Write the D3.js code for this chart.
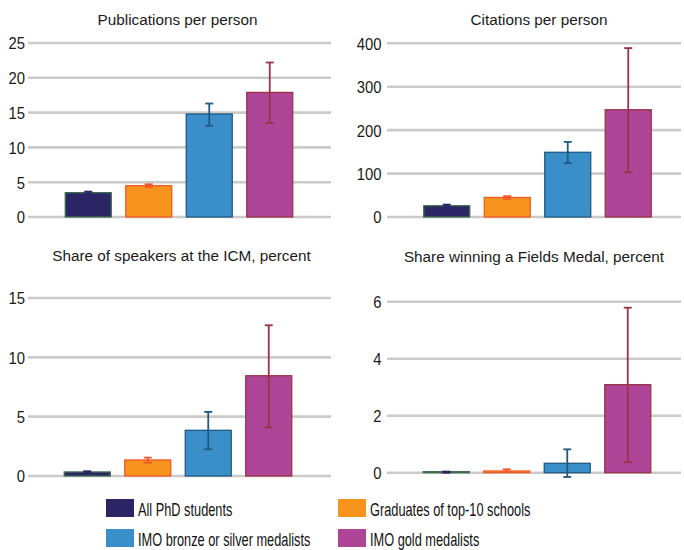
<!DOCTYPE html>
<html>
<head>
<meta charset="utf-8">
<script src="https://cdn.jsdelivr.net/npm/d3@7"></script>
<style>
  html, body { margin: 0; padding: 0; background: #fff; }
  svg { display: block; }
</style>
</head>
<body>
<svg id="chart" width="684" height="550"></svg>
<script>
// Groups compared in every panel
const categories = [
  "All PhD students",
  "Graduates of top-10 schools",
  "IMO bronze or silver medalists",
  "IMO gold medalists"
];

// Publications per person (mean, lower and upper bounds of the interval)
const publications     = [3.5, 4.5, 14.8, 17.9];
const publicationsLow  = [3.35, 4.3, 13.1, 13.5];
const publicationsHigh = [3.65, 4.7, 16.3, 22.2];
const publicationTicks = [0, 5, 10, 15, 20, 25];

// Citations per person
const citations     = [26, 45, 149, 247];
const citationsLow  = [24, 41, 124, 103];
const citationsHigh = [28.5, 48, 173, 389];
const citationTicks = [0, 100, 200, 300, 400];

// Share of speakers at the ICM, percent
const icmShare     = [0.34, 1.35, 3.85, 8.45];
const icmShareLow  = [0.3, 1.12, 2.25, 4.1];
const icmShareHigh = [0.4, 1.55, 5.4, 12.7];
const icmTicks     = [0, 5, 10, 15];

// Share winning a Fields Medal, percent
const fieldsShare     = [0.02, 0.06, 0.33, 3.09];
const fieldsShareLow  = [0.0, 0.03, -0.15, 0.37];
const fieldsShareHigh = [0.04, 0.12, 0.82, 5.79];
const fieldsTicks     = [0, 2, 4, 6];

const titles = [
  "Publications per person",
  "Citations per person",
  "Share of speakers at the ICM, percent",
  "Share winning a Fields Medal, percent"
];

// Styling per group
const fills   = ["#2b2566", "#f7941e", "#3b8fc8", "#ae4596"];
const strokes = ["#3f6d50", "#f15a29", "#1f5a85", "#9b3348"];
const errCols = ["#2b2566", "#f15a29", "#1f5a85", "#9b3348"];

const svg = d3.select("#chart");
const sans = "'Liberation Sans', Arial, sans-serif";

// Panel layout
const panels = [
  { title: titles[0], vals: publications, lo: publicationsLow, hi: publicationsHigh, ticks: publicationTicks,
    xRange: [58, 300], yRange: [217, 43], gridX: [28, 331], labelX: 25, titleX: 177.5, titleY: 25 },
  { title: titles[1], vals: citations, lo: citationsLow, hi: citationsHigh, ticks: citationTicks,
    xRange: [416.5, 658.5], yRange: [217, 43.3], gridX: [387, 681], labelX: 381.5, titleX: 539, titleY: 25 },
  { title: titles[2], vals: icmShare, lo: icmShareLow, hi: icmShareHigh, ticks: icmTicks,
    xRange: [57, 299], yRange: [476, 298], gridX: [28, 331], labelX: 25, titleX: 181.5, titleY: 261 },
  { title: titles[3], vals: fieldsShare, lo: fieldsShareLow, hi: fieldsShareHigh, ticks: fieldsTicks,
    xRange: [416, 658], yRange: [472.7, 301.7], gridX: [387, 681], labelX: 381.5, titleX: 534, titleY: 262 }
];

panels.forEach(p => {
  const g = svg.append("g");
  const x = d3.scaleBand().domain(categories).range(p.xRange).paddingInner(0.24).paddingOuter(0.12);
  const y = d3.scaleLinear().domain([0, d3.max(p.ticks)]).range(p.yRange);

  // Title
  g.append("text")
    .attr("x", p.titleX).attr("y", p.titleY)
    .attr("text-anchor", "middle")
    .style("font-family", sans)
    .style("font-size", "15.3px")
    .style("fill", "#1a1a1a")
    .text(p.title);

  // Horizontal gridlines
  g.selectAll("line.grid").data(p.ticks).join("line")
    .attr("class", "grid")
    .attr("x1", p.gridX[0]).attr("x2", p.gridX[1])
    .attr("y1", d => y(d)).attr("y2", d => y(d))
    .attr("stroke", "#cdcaca").attr("stroke-width", 2.6);

  // Tick labels, narrowed horizontally for a condensed look
  const axis = g.append("g")
    .attr("transform", `translate(${p.labelX},0)`)
    .call(d3.axisLeft(y).tickValues(p.ticks).tickSize(0).tickPadding(0).tickFormat(d3.format("d")));
  axis.select(".domain").remove();
  axis.selectAll("text")
    .attr("dy", "0.36em")
    .attr("transform", "scale(0.9,1)")
    .style("font-family", sans)
    .style("font-size", "16.5px")
    .style("fill", "#1a1a1a");

  // Bars
  g.selectAll("rect.bar").data(categories).join("rect")
    .attr("class", "bar")
    .attr("x", d => x(d))
    .attr("width", x.bandwidth())
    .attr("y", (d, i) => Math.min(y(p.vals[i]), y(0) - 1))
    .attr("height", (d, i) => Math.max(y(0) - y(p.vals[i]), 1))
    .attr("fill", (d, i) => fills[i])
    .attr("stroke", (d, i) => strokes[i])
    .attr("stroke-width", 1.3);

  // Error bars
  const eb = g.selectAll("g.err").data(categories).join("g").attr("class", "err");
  const cx = d => x(d) + x.bandwidth() / 2;
  const capW = 4;
  eb.append("line")
    .attr("x1", cx).attr("x2", cx)
    .attr("y1", (d, i) => y(p.lo[i])).attr("y2", (d, i) => y(p.hi[i]))
    .attr("stroke", (d, i) => errCols[i]).attr("stroke-width", 1.8);
  eb.append("line")
    .attr("x1", d => cx(d) - capW).attr("x2", d => cx(d) + capW)
    .attr("y1", (d, i) => y(p.hi[i])).attr("y2", (d, i) => y(p.hi[i]))
    .attr("stroke", (d, i) => errCols[i]).attr("stroke-width", 1.8);
  eb.append("line")
    .attr("x1", d => cx(d) - capW).attr("x2", d => cx(d) + capW)
    .attr("y1", (d, i) => y(p.lo[i])).attr("y2", (d, i) => y(p.lo[i]))
    .attr("stroke", (d, i) => errCols[i]).attr("stroke-width", 1.8);
});

// Legend, two columns by two rows
const legendPos = [[106, 499], [338, 499], [106, 529], [338, 529]];
const legend = svg.append("g");
const items = legend.selectAll("g").data(categories).join("g")
  .attr("transform", (d, i) => `translate(${legendPos[i][0]},${legendPos[i][1]})`);
items.append("rect")
  .attr("width", 28).attr("height", 18)
  .attr("fill", (d, i) => fills[i]);
items.append("text")
  .attr("transform", "translate(32,17) scale(0.71,1)")
  .style("font-family", sans)
  .style("font-size", "18px")
  .style("fill", "#111")
  .text(d => d);
</script>
</body>
</html>
